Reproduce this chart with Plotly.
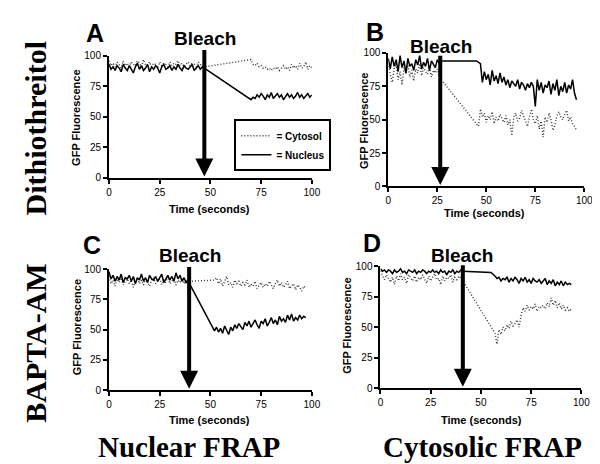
import plotly.graph_objects as go

# ---------------------------------------------------------------------------
# Data (GFP fluorescence, % of initial)
# ---------------------------------------------------------------------------
# Panel A - Dithiothreitol, nuclear FRAP
time_a_pre = list(range(0, 48))
time_a_post = list(range(70, 101))
nuc_a_pre = [93, 89, 91, 88, 92, 90, 87, 93, 90, 88, 92, 89, 86, 91, 94, 89,
             92, 88, 90, 93, 87, 91, 89, 92, 90, 86, 91, 93, 89, 90, 92, 88,
             91, 89, 93, 90, 88, 92, 90, 89, 91, 93, 88, 90, 92, 89, 91, 90]
nuc_a_post = [64, 66, 65, 68, 66, 69, 67, 64, 68, 66, 70, 65, 67, 69, 66, 68,
              64, 67, 69, 66, 68, 65, 67, 70, 66, 68, 65, 67, 69, 66, 68]
cyto_a_pre = [96, 92, 94, 91, 95, 93, 90, 96, 92, 94, 91, 95, 93, 92, 96, 94,
              91, 97, 93, 92, 95, 91, 94, 93, 90, 95, 92, 94, 93, 91, 95, 92,
              94, 93, 96, 92, 94, 91, 93, 95, 92, 94, 93, 91, 95, 93, 92, 91]
cyto_a_post = [97, 93, 92, 94, 91, 92, 90, 91, 89, 90, 88, 90, 89, 91, 88, 90,
               92, 89, 91, 88, 93, 90, 92, 89, 94, 90, 91, 95, 89, 92, 90]

# Panel B - Dithiothreitol, cytosolic FRAP
time_b_pre = list(range(0, 28))
nuc_b_pre = [96, 88, 97, 90, 95, 86, 98, 89, 94, 85, 96, 90, 92, 87, 95, 91,
             98, 88, 93, 90, 96, 87, 94, 91, 89, 95, 92, 94]
time_b_nuc_flat = [45, 47]
nuc_b_flat = [94, 92]
time_b_nuc_post = list(range(48, 97))
nuc_b_post = [78, 86, 80, 84, 76, 87, 79, 83, 77, 85, 78, 82, 76, 80, 74, 79,
              77, 75, 80, 73, 78, 76, 72, 77, 74, 78, 75, 60, 80, 72, 78, 70,
              76, 74, 79, 69, 77, 72, 80, 68, 75, 71, 78, 70, 76, 73, 80, 70, 65]
cyto_b_pre = [90, 84, 78, 88, 92, 80, 86, 76, 89, 84, 91, 82, 87, 79, 88, 85,
              92, 83, 89, 86, 84, 90, 82, 87, 85, 88, 83, 80]
time_b_cyto_post = list(range(46, 97))
cyto_b_post = [45, 58, 52, 55, 48, 53, 50, 56, 47, 52, 49, 54, 51, 48, 53, 46,
               50, 38, 52, 55, 49, 51, 57, 53, 48, 45, 52, 58, 50, 47, 53, 43,
               49, 37, 52, 48, 55, 50, 42, 46, 53, 56, 52, 50, 54, 57, 49, 52,
               47, 45, 42]

# Panel C - BAPTA-AM, nuclear FRAP
time_c_pre = list(range(0, 41))
time_c_post = list(range(52, 98))
nuc_c_pre = [98, 92, 95, 90, 94, 91, 96, 89, 93, 92, 95, 90, 94, 88, 93, 91,
             96, 90, 93, 89, 95, 92, 91, 94, 90, 93, 96, 89, 92, 95, 91, 94,
             90, 97, 92, 95, 90, 93, 89, 91, 87]
nuc_c_post = [49, 52, 48, 51, 47, 53, 50, 46, 52, 49, 54, 51, 55, 52, 50, 56,
              53, 57, 52, 55, 58, 54, 51, 57, 55, 59, 53, 56, 60, 55, 58, 54,
              61, 57, 59, 56, 62, 58, 63, 57, 60, 58, 62, 59, 61, 60]
cyto_c_pre = [94, 88, 91, 86, 92, 89, 93, 87, 90, 92, 88, 91, 85, 90, 93, 88,
              91, 87, 92, 89, 86, 91, 93, 88, 90, 92, 87, 91, 89, 94, 88, 90,
              92, 87, 91, 89, 93, 88, 90, 91, 90]
cyto_c_post = [91, 93, 88, 92, 86, 90, 94, 87, 89, 85, 91, 88, 90, 86, 89, 87,
               91, 85, 88, 86, 90, 84, 87, 89, 85, 88, 86, 90, 87, 84, 88, 91,
               86, 89, 85, 87, 90, 84, 86, 88, 83, 87, 85, 82, 86, 84]

# Panel D - BAPTA-AM, cytosolic FRAP
time_d_pre = list(range(0, 42))
time_d_post = list(range(57, 96))
nuc_d_pre = [98, 96, 97, 95, 97, 96, 94, 97, 95, 96, 98, 95, 96, 94, 97, 96,
             95, 97, 94, 96, 95, 97, 96, 94, 96, 95, 97, 95, 96, 94, 97, 95,
             96, 93, 96, 95, 97, 94, 96, 95, 97, 96]
time_d_nuc_flat = [55]
nuc_d_flat = [95]
nuc_d_post = [92, 90, 91, 88, 90, 89, 91, 87, 90, 88, 91, 89, 86, 90, 88, 91,
              87, 89, 86, 90, 88, 87, 89, 86, 88, 90, 85, 88, 86, 89, 84, 87,
              85, 88, 84, 87, 85, 86, 85]
cyto_d_pre = [96, 92, 89, 93, 90, 87, 91, 85, 92, 88, 94, 89, 91, 86, 93, 90,
              88, 92, 87, 91, 89, 93, 90, 86, 92, 88, 91, 94, 89, 90, 85, 92,
              88, 91, 90, 93, 87, 91, 89, 92, 90, 88]
cyto_d_post = [45, 36, 48, 44, 50, 47, 52, 49, 55, 51, 53, 56, 50, 60, 66, 63,
               68, 64, 67, 65, 69, 63, 67, 66, 68, 65, 70, 67, 74, 68, 72, 66,
               70, 65, 68, 64, 66, 63, 65]

panel_letters = ["A", "B", "C", "D"]
bleach_times = [47, 26.5, 39.5, 41]
y_ticks = [0, 25, 50, 75, 100]
x_ticks = [0, 25, 50, 75, 100]

# ---------------------------------------------------------------------------
W, H = 600, 464
def px_x(p): return p / W
def px_y(p): return 1 - p / H

# pixel boxes of the four plotting areas: (left, right, bottom, top)
boxes = [(100, 307, 168, 43), (385, 585, 177, 40),
         (100, 307, 386, 262), (377, 582, 384, 259)]
arrow_tails = [106, 99, 103, 102]

series = [
    (time_a_pre + time_a_post, nuc_a_pre + nuc_a_post,
     time_a_pre + time_a_post, cyto_a_pre + cyto_a_post),
    (time_b_pre + time_b_nuc_flat + time_b_nuc_post, nuc_b_pre + nuc_b_flat + nuc_b_post,
     time_b_pre + time_b_cyto_post, cyto_b_pre + cyto_b_post),
    (time_c_pre + time_c_post, nuc_c_pre + nuc_c_post,
     time_c_pre + time_c_post, cyto_c_pre + cyto_c_post),
    (time_d_pre + time_d_nuc_flat + time_d_post, nuc_d_pre + nuc_d_flat + nuc_d_post,
     time_d_pre + time_d_post, cyto_d_pre + cyto_d_post),
]

fig = go.Figure()
axfont = dict(family="Liberation Sans", size=10, color="black")
ann = []

for i, (box, (tn, yn, tc, yc)) in enumerate(zip(boxes, series)):
    n = i + 1
    xa = "x" if n == 1 else f"x{n}"
    ya = "y" if n == 1 else f"y{n}"
    fig.add_trace(go.Scatter(x=tc, y=yc, mode="lines", name="<b>= Cytosol</b>",
                             line=dict(color="#333", width=1.4, dash="1px,2px"),
                             showlegend=(n == 1), xaxis=xa, yaxis=ya))
    fig.add_trace(go.Scatter(x=tn, y=yn, mode="lines", name="<b>= Nucleus</b>",
                             line=dict(color="black", width=1.5),
                             showlegend=(n == 1), xaxis=xa, yaxis=ya))
    l, r, b, t = box
    common = dict(showline=True, linecolor="black", linewidth=2, ticks="outside",
                  ticklen=4, tickwidth=2, tickcolor="black", showgrid=False,
                  zeroline=False, range=[0, 100], tickfont=axfont, tickprefix="<b>",
                  ticksuffix="</b>")
    fig.layout[f"xaxis{'' if n == 1 else n}"] = dict(
        common, domain=[px_x(l), px_x(r)], anchor=ya, tickvals=x_ticks)
    fig.layout[f"yaxis{'' if n == 1 else n}"] = dict(
        common, domain=[px_y(b), px_y(t)], anchor=xa, tickvals=y_ticks)

    # bleach arrow
    ann.append(dict(x=bleach_times[i], y=1, xref=xa, yref=ya,
                    ax=bleach_times[i], ay=arrow_tails[i],
                    axref=xa, ayref=ya, showarrow=True, arrowhead=2,
                    arrowsize=0.9, arrowwidth=4, arrowcolor="black", text="",
                    standoff=0))

# text labels (pixel positions)
def txt(x, y, s, size, family="Liberation Sans", angle=0):
    ann.append(dict(x=px_x(x), y=px_y(y), xref="paper", yref="paper", text=s,
                    showarrow=False, textangle=angle, xanchor="center",
                    yanchor="middle", font=dict(family=family, size=size, color="black")))

for s, x, y in zip(panel_letters, [86, 371, 83, 368], [19, 18, 237, 235]):
    txt(x, y, f"<b>{s}</b>", 25)
for x, y in zip([198, 439, 183, 460], [25, 33, 248, 248]):
    txt(x, y, "<b>Bleach</b>", 19)
for x, y in zip([203, 483, 203, 480], [200, 204, 417, 417]):
    txt(x, y, "<b>Time (seconds)</b>", 11)
for x, y in zip([67, 360, 67, 343], [107, 110, 322, 320]):
    txt(x, y, "<b>GFP Fluorescence</b>", 11, angle=-90)
txt(25, 118, "<b>Dithiothreitol</b>", 30, family="Liberation Serif", angle=-90)
txt(25, 338, "<b>BAPTA-AM</b>", 30, family="Liberation Serif", angle=-90)
txt(182, 444, "<b>Nuclear FRAP</b>", 29, family="Liberation Serif")
txt(481, 444, "<b>Cytosolic FRAP</b>", 29, family="Liberation Serif")

fig.update_layout(
    width=W, height=H, margin=dict(l=0, r=0, t=0, b=0),
    paper_bgcolor="white", plot_bgcolor="white", annotations=ann,
    legend=dict(x=px_x(228), y=px_y(108), xanchor="left", yanchor="top",
                bordercolor="black", borderwidth=2, bgcolor="white",
                font=dict(family="Liberation Sans", size=10, color="black"),
                itemwidth=30, tracegroupgap=0),
)
fig.write_html("out.html")
